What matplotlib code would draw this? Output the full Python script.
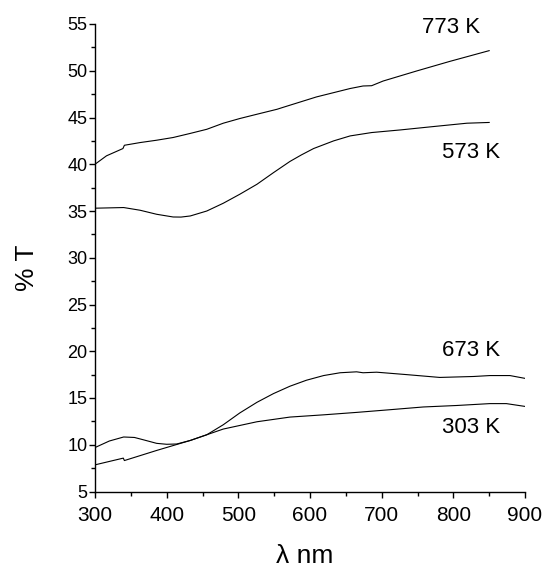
import matplotlib
matplotlib.use("Agg")
import matplotlib.pyplot as plt
from matplotlib.ticker import MultipleLocator

plt.rcParams['font.family'] = ['Liberation Sans', 'DejaVu Sans']

# Data (wavelength nm, %T)
wl_773 = [300, 316, 339, 341, 363, 386, 409, 433, 456, 479, 502, 526, 554, 563, 609, 656, 674, 686, 702, 749, 795, 850]
t_773 = [40.0, 40.9, 41.68, 42.03, 42.32, 42.57, 42.86, 43.3, 43.74, 44.39, 44.89, 45.35, 45.88, 46.1, 47.2, 48.1, 48.37, 48.4, 48.9, 49.98, 51.0, 52.15]

wl_573 = [300, 340, 363, 386, 409, 420, 433, 456, 479, 502, 526, 549, 572, 588, 605, 633, 656, 686, 726, 772, 819, 850]
t_573 = [35.3, 35.37, 35.08, 34.65, 34.36, 34.35, 34.47, 35.0, 35.83, 36.79, 37.86, 39.1, 40.3, 41.0, 41.68, 42.5, 43.03, 43.39, 43.67, 44.03, 44.39, 44.47]

wl_673 = [300, 320, 340, 355, 367, 386, 400, 414, 433, 456, 479, 502, 526, 549, 572, 595, 619, 642, 665, 674, 693, 735, 781, 828, 851, 879, 900]
t_673 = [9.7, 10.4, 10.83, 10.78, 10.54, 10.15, 10.05, 10.08, 10.46, 11.07, 12.14, 13.4, 14.54, 15.47, 16.26, 16.9, 17.4, 17.7, 17.8, 17.7, 17.76, 17.5, 17.2, 17.3, 17.4, 17.4, 17.1]

wl_303 = [300, 339.5, 341, 386, 433, 479, 526, 572, 619, 665, 712, 758, 805, 851, 874, 900]
t_303 = [7.85, 8.57, 8.31, 9.39, 10.46, 11.68, 12.46, 12.96, 13.2, 13.46, 13.75, 14.04, 14.2, 14.4, 14.4, 14.1]

labels = ["773 K", "573 K", "673 K", "303 K"]
label_x = [797, 825, 825, 825]
label_y = [54.6, 41.3, 20.1, 11.8]

fig = plt.figure(figsize=(5.42, 5.70), dpi=100)
ax = fig.add_axes([95 / 542, 1 - 491.5 / 570, 430 / 542, 467.5 / 570])

for x, y in [(wl_773, t_773), (wl_573, t_573), (wl_673, t_673), (wl_303, t_303)]:
    ax.plot(x, y, color='black', lw=0.8)

for s, x, y in zip(labels, label_x, label_y):
    ax.text(x, y, s, fontsize=16, ha='center', va='center')

ax.set_xlim(300, 900)
ax.set_ylim(5, 55)
ax.xaxis.set_major_locator(MultipleLocator(100))
ax.xaxis.set_minor_locator(MultipleLocator(50))
ax.yaxis.set_major_locator(MultipleLocator(5))
ax.yaxis.set_minor_locator(MultipleLocator(2.5))
for sp in ['top', 'right']:
    ax.spines[sp].set_visible(False)
for sp in ['left', 'bottom']:
    ax.spines[sp].set_linewidth(1.0)
ax.tick_params(which='major', direction='out', length=4.5, width=1.0)
ax.tick_params(which='minor', direction='out', length=3, width=1.0)
ax.tick_params(axis='y', labelsize=13, pad=1)
ax.tick_params(axis='x', labelsize=15, pad=6)

fig.text(27 / 542, 1 - 268 / 570, '% T', fontsize=19, rotation=90, ha='center', va='center')
fig.text(305 / 542, 2 / 570, 'λ nm', fontsize=19, ha='center', va='bottom')

fig.savefig('out.png', dpi=100)
